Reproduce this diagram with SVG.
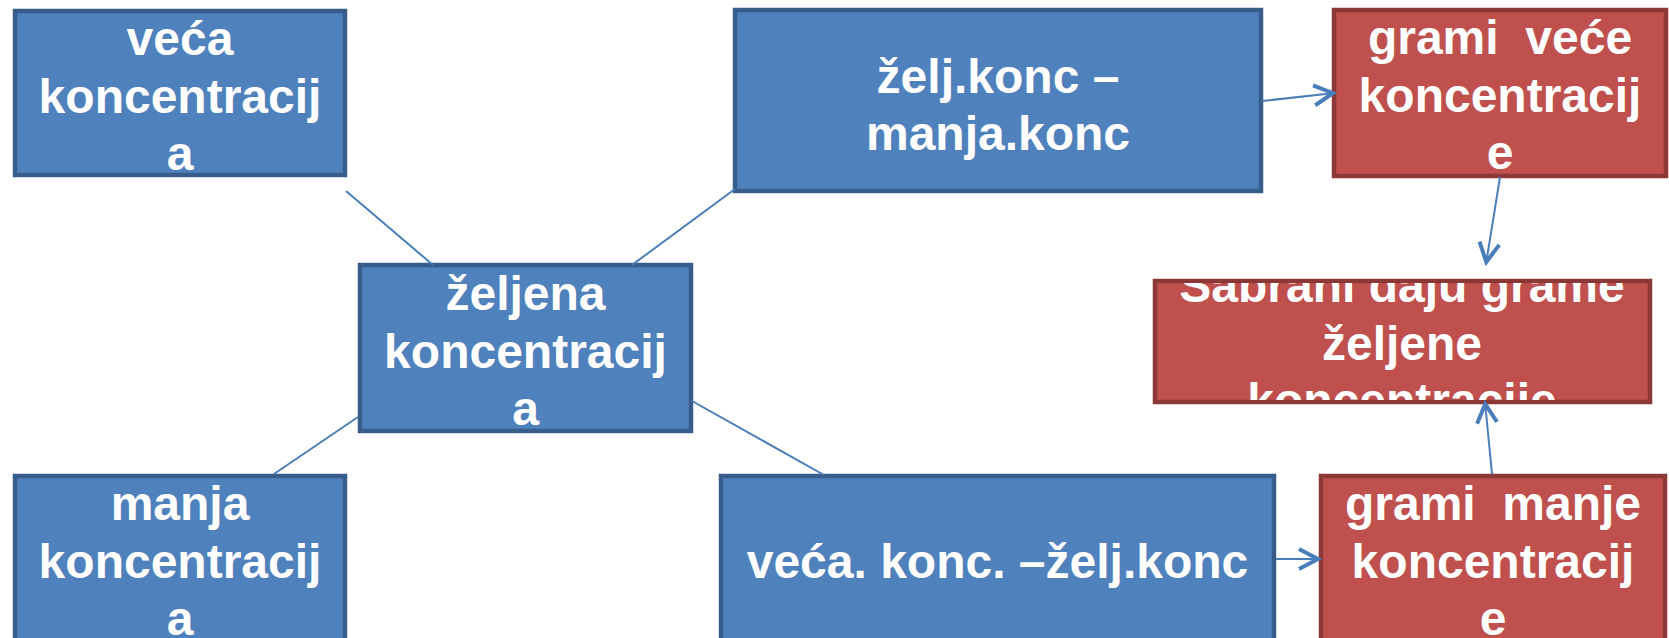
<svg xmlns="http://www.w3.org/2000/svg" width="1669" height="638" viewBox="0 0 1669 638">
<style>
.blue{fill:#4F81BD;stroke:#385D8A;stroke-width:4.5}
.red{fill:#C0504D;stroke:#8C3836;stroke-width:4.5}
.t{font-family:"Liberation Sans",Arial,sans-serif;font-weight:bold;font-size:48px;fill:#FFFFFF;text-anchor:middle}
.c{stroke:#4A7EBB;stroke-width:2;fill:none}
.a{stroke:#4A7EBB;stroke-width:2;fill:none;marker-end:url(#arr)}
</style>
<defs>
<marker id="arr" markerUnits="userSpaceOnUse" markerWidth="30" markerHeight="30" viewBox="-25 -15 30 30" refX="0" refY="0" orient="auto" overflow="visible">
<path d="M-21,-10 L-2,0 L-21,10" fill="none" stroke="#4A7EBB" stroke-width="4"/>
</marker>
<clipPath id="clip5"><rect x="1157" y="283" width="491" height="117"/></clipPath>
</defs>
<g id="n1">
<rect class="blue" x="15" y="11" width="330" height="164"/>
<text class="t" x="180" y="55">veća</text>
<text class="t" x="180" y="113">koncentracij</text>
<text class="t" x="180" y="170">a</text>
</g>
<g id="n2">
<rect class="blue" x="360" y="265" width="331" height="166"/>
<text class="t" x="525.5" y="310">željena</text>
<text class="t" x="525.5" y="368">koncentracij</text>
<text class="t" x="525.5" y="425">a</text>
</g>
<g id="n3">
<rect class="blue" x="735" y="10" width="526" height="181"/>
<text class="t" x="998" y="93">želj.konc –</text>
<text class="t" x="998" y="150">manja.konc</text>
</g>
<g id="n4">
<rect class="red" x="1334" y="10" width="332" height="166"/>
<text class="t" x="1500" y="54" xml:space="preserve">grami  veće</text>
<text class="t" x="1500" y="112">koncentracij</text>
<text class="t" x="1500" y="169">e</text>
</g>
<g id="n5">
<rect class="red" x="1155" y="281" width="495" height="121"/>
<g clip-path="url(#clip5)">
<text class="t" x="1402" y="302">Sabrani daju grame</text>
<text class="t" x="1402" y="360">željene</text>
<text class="t" x="1402" y="417">koncentracije</text>
</g>
</g>
<g id="n6">
<rect class="blue" x="15" y="476" width="330" height="170"/>
<text class="t" x="180" y="520">manja</text>
<text class="t" x="180" y="578">koncentracij</text>
<text class="t" x="180" y="635">a</text>
</g>
<g id="n7">
<rect class="blue" x="721" y="476" width="553" height="180"/>
<text class="t" x="997.5" y="578">veća. konc. –želj.konc</text>
</g>
<g id="n8">
<rect class="red" x="1321" y="476" width="344" height="170"/>
<text class="t" x="1493" y="520" xml:space="preserve">grami  manje</text>
<text class="t" x="1493" y="578">koncentracij</text>
<text class="t" x="1493" y="635">e</text>
</g>
<g id="connectors">
<line class="c" x1="346" y1="191" x2="433" y2="265"/>
<line class="c" x1="632" y1="265" x2="735" y2="189"/>
<line class="c" x1="358" y1="417" x2="274" y2="474"/>
<line class="c" x1="692" y1="401" x2="824" y2="475"/>
<line class="a" x1="1262" y1="101" x2="1335" y2="93"/>
<line class="a" x1="1500" y1="177" x2="1486" y2="264"/>
<line class="a" x1="1276" y1="559" x2="1320" y2="559"/>
<line class="a" x1="1492" y1="474" x2="1485" y2="402"/>
</g>
</svg>
